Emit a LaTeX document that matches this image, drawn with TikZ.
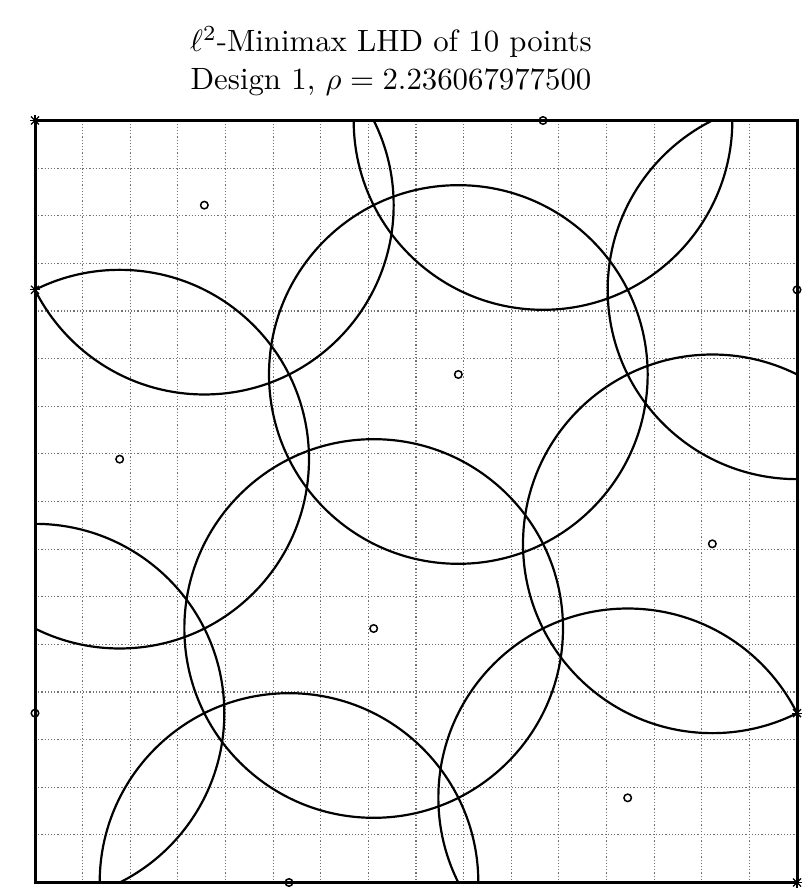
\documentclass[tikz,border=0pt]{standalone}
\usepackage{graphicx}
\begin{document}
\begin{tikzpicture}[x=1pt,y=1pt,
  gridline/.style={black!55, dotted, line width=1.2pt},
  frame/.style={black, line width=3pt},
  ball/.style={black, line width=2.2pt},
  designpt/.style={circle, draw=black, line width=1.5pt, inner sep=0pt, minimum size=7.5pt},
  starmark/.style={black, line width=1.3pt},
  titletext/.style={anchor=base, inner sep=0pt}]
\useasboundingbox (0,0) rectangle (803,890);
% title
\node[titletext] (t1) at (391,838) {\scalebox{3.08}{$\ell^2$-Minimax LHD of 10 points}};
\node[titletext] (t2) at (391,800) {\scalebox{3.08}{Design 1, $\rho = 2.236067977500$}};
\begin{scope}[shift={(35,769.5)}, x=84.667pt, y=-84.667pt]
  % grid
  \foreach \k in {1,...,15} {
    \draw[gridline] ({\k*9/16},0) -- ({\k*9/16},9);
    \draw[gridline] (0,{\k*9/16}) -- (9,{\k*9/16});
  }
  % design points
  \coordinate (pA) at (0,7);
  \coordinate (pB) at (1,4);
  \coordinate (pC) at (2,1);
  \coordinate (pD) at (3,9);
  \coordinate (pE) at (4,6);
  \coordinate (pF) at (5,3);
  \coordinate (pG) at (6,0);
  \coordinate (pH) at (7,8);
  \coordinate (pI) at (8,5);
  \coordinate (pJ) at (9,2);
  % circles of radius rho, clipped to the square
  \begin{scope}
    \clip (0,0) rectangle (9,9);
    \foreach \p in {pA,pB,pC,pD,pE,pF,pG,pH,pI,pJ}
      \draw[ball] (\p) circle[radius=189.32pt];
  \end{scope}
  % frame
  \draw[frame] (0,0) rectangle (9,9);
  % point markers
  \foreach \p in {pA,pB,pC,pD,pE,pF,pG,pH,pI,pJ}
    \node[designpt] (m\p) at (\p) {};
  % minimax-attaining points
  \coordinate (s1) at (0,0);
  \coordinate (s2) at (0,2);
  \coordinate (s3) at (9,7);
  \coordinate (s4) at (9,9);
  \foreach \s in {s1,s2,s3,s4} {
    \draw[starmark] ([shift={(-5pt,0pt)}]\s) -- ([shift={(5pt,0pt)}]\s);
    \draw[starmark] ([shift={(0pt,-5pt)}]\s) -- ([shift={(0pt,5pt)}]\s);
    \draw[starmark] ([shift={(-4pt,-4pt)}]\s) -- ([shift={(4pt,4pt)}]\s);
    \draw[starmark] ([shift={(-4pt,4pt)}]\s) -- ([shift={(4pt,-4pt)}]\s);
  }
\end{scope}
\end{tikzpicture}
\end{document}
